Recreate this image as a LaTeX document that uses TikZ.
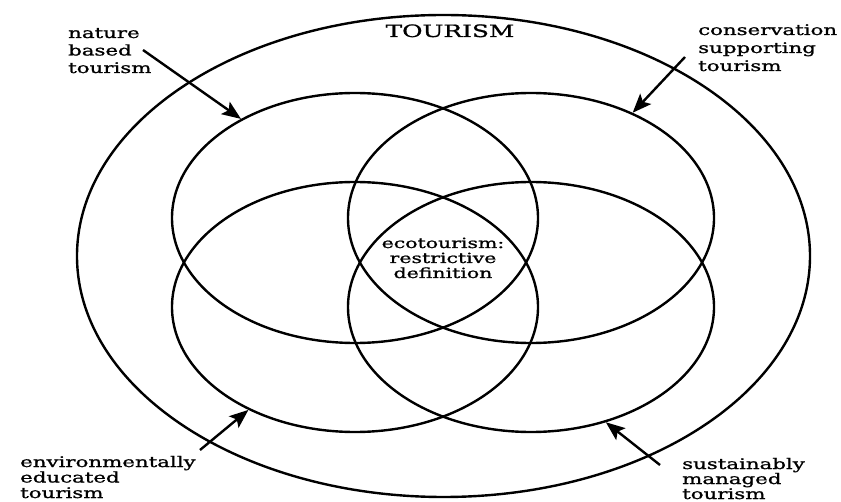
\documentclass[tikz,border=0pt]{standalone}
\usepackage{fontspec}
\newfontfamily\lblfont[FakeStretch=1.46,FakeBold=1.2]{DejaVu Serif}
\usetikzlibrary{shapes.geometric,arrows.meta}
\begin{document}
\begin{tikzpicture}[x=1pt,y=-1pt,
  ring/.style={draw, ellipse, line width=2.4pt, inner sep=0pt},
  venn/.style={ring, minimum width=366pt, minimum height=250pt},
  lbl/.style={font=\lblfont\fontsize{14.6}{17.5}\selectfont, inner sep=0pt, align=left, anchor=base west},
  ptr/.style={line width=2.4pt, -{Stealth[length=19pt,width=15pt,inset=4pt]}}]
\useasboundingbox (0,0) rectangle (841,502);
% outer ring and four sets
\node[ring, minimum width=733pt, minimum height=482pt] (tourism) at (443.5,256) {};
\node[venn] (tl) at (355,218) {};
\node[venn] (tr) at (531,218) {};
\node[venn] (bl) at (355,307) {};
\node[venn] (br) at (531,307) {};
% labels (base anchor = baseline of the last line)
\node[lbl, anchor=base, font=\lblfont\fontsize{17}{20}\selectfont] (ttl) at (450,37) {TOURISM};
\node[lbl] (nat) at (68,73) {nature\\based\\tourism};
\node[lbl, font=\lblfont\fontsize{14.6}{18}\selectfont] (con) at (698,71) {conservation\\supporting\\tourism};
\node[lbl, font=\lblfont\fontsize{14.6}{15.5}\selectfont] (env) at (20,498) {environmentally\\educated\\tourism};
\node[lbl, font=\lblfont\fontsize{14.6}{15}\selectfont] (sus) at (682,499) {sustainably\\managed\\tourism};
\node[lbl, anchor=base, align=center, font=\lblfont\fontsize{14}{15}\selectfont] (eco) at (443,278) {ecotourism:\\restrictive\\definition};
% pointer arrows
\coordinate (natS) at (143,50);
\coordinate (conS) at (685,57);
\coordinate (envS) at (200,450);
\coordinate (susS) at (660,465);
\draw[ptr] (natS) -- (tl.139.7);
\draw[ptr] (conS) -- (tr.46);
\draw[ptr] (envS) -- (bl.224.4);
\draw[ptr] (susS) -- (br.303.2);
\end{tikzpicture}
\end{document}
